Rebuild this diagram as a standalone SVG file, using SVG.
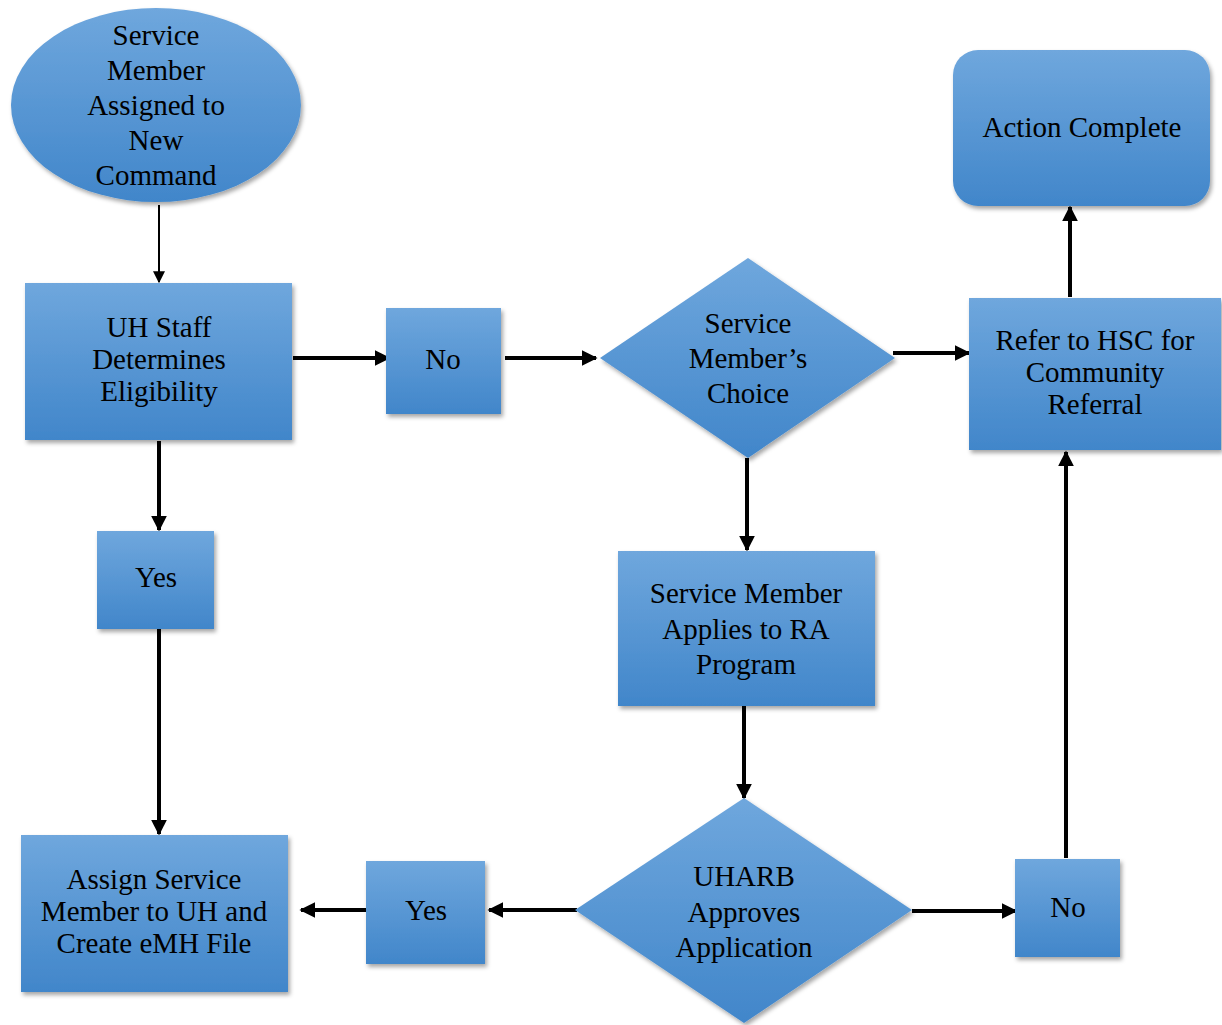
<svg xmlns="http://www.w3.org/2000/svg" width="1222" height="1025" viewBox="0 0 1222 1025">
<defs>
<linearGradient id="g" x1="0" y1="0" x2="0" y2="1">
<stop offset="0" stop-color="#6fa7dd"/>
<stop offset="1" stop-color="#4186ca"/>
</linearGradient>
<filter id="sh" x="-10%" y="-10%" width="125%" height="125%">
<feDropShadow dx="2" dy="3" stdDeviation="2" flood-color="#000" flood-opacity="0.35"/>
</filter>
<marker id="ah" viewBox="0 0 10 10" refX="9" refY="5" markerWidth="4" markerHeight="4" orient="auto" markerUnits="strokeWidth">
<path d="M0,0 L10,5 L0,10 z" fill="#000"/>
</marker>
<marker id="ah2" viewBox="0 0 10 10" refX="9" refY="5" markerWidth="6" markerHeight="6" orient="auto" markerUnits="strokeWidth">
<path d="M0,0 L10,5 L0,10 z" fill="#000"/>
</marker>
</defs>
<style>
.n{fill:url(#g);filter:url(#sh)}
.tx{font-family:'Liberation Serif','Times New Roman',serif;font-size:29px;fill:#000;text-anchor:middle}
.c line{stroke:#000;stroke-width:4;marker-end:url(#ah)}
.c line.t{stroke-width:2;marker-end:url(#ah2)}
</style>
<rect width="1222" height="1025" fill="#fff"/>
<g class="c">
<line class="t" x1="159" y1="205" x2="159" y2="282"/>
<line x1="293" y1="358" x2="389" y2="358"/>
<line x1="505" y1="358" x2="596" y2="358"/>
<line x1="893" y1="353" x2="969" y2="353"/>
<line x1="1070" y1="297" x2="1070" y2="207"/>
<line x1="159" y1="441" x2="159" y2="530"/>
<line x1="159" y1="629" x2="159" y2="834"/>
<line x1="747" y1="458" x2="747" y2="550"/>
<line x1="744" y1="706" x2="744" y2="798"/>
<line x1="577" y1="910" x2="489" y2="910"/>
<line x1="368" y1="910" x2="301" y2="910"/>
<line x1="912" y1="911" x2="1016" y2="911"/>
<line x1="1066" y1="858" x2="1066" y2="452"/>
</g>
<g id="start" class="tx">
<ellipse class="n" cx="156" cy="105" rx="145" ry="97"/>
<text x="156" y="45">Service</text>
<text x="156" y="80">Member</text>
<text x="156" y="115">Assigned to</text>
<text x="156" y="150">New</text>
<text x="156" y="185">Command</text>
</g>
<g id="uh-staff" class="tx">
<rect class="n" x="25" y="283" width="267" height="157"/>
<text x="159" y="337">UH Staff</text>
<text x="159" y="369">Determines</text>
<text x="159" y="401">Eligibility</text>
</g>
<g id="no1" class="tx">
<rect class="n" x="386" y="308" width="115" height="106"/>
<text x="443" y="369">No</text>
</g>
<g id="choice" class="tx">
<polygon class="n" points="748,258 895,358 748,458 600,358"/>
<text x="748" y="333">Service</text>
<text x="748" y="368">Member’s</text>
<text x="748" y="403">Choice</text>
</g>
<g id="refer" class="tx">
<rect class="n" x="969" y="298" width="252" height="152"/>
<text x="1095" y="350">Refer to HSC for</text>
<text x="1095" y="382">Community</text>
<text x="1095" y="414">Referral</text>
</g>
<g id="complete" class="tx">
<rect class="n" x="953" y="50" width="257" height="156" rx="25"/>
<text x="1082" y="137">Action Complete</text>
</g>
<g id="yes1" class="tx">
<rect class="n" x="97" y="531" width="117" height="98"/>
<text x="156" y="587">Yes</text>
</g>
<g id="apply" class="tx">
<rect class="n" x="618" y="551" width="257" height="155"/>
<text x="746" y="603">Service Member</text>
<text x="746" y="639">Applies to RA</text>
<text x="746" y="674">Program</text>
</g>
<g id="uharb" class="tx">
<polygon class="n" points="744,798 912,910 744,1023 575,910"/>
<text x="744" y="886">UHARB</text>
<text x="744" y="922">Approves</text>
<text x="744" y="957">Application</text>
</g>
<g id="yes2" class="tx">
<rect class="n" x="366" y="861" width="119" height="103"/>
<text x="426" y="920">Yes</text>
</g>
<g id="no2" class="tx">
<rect class="n" x="1015" y="859" width="105" height="98"/>
<text x="1068" y="917">No</text>
</g>
<g id="assign" class="tx">
<rect class="n" x="21" y="835" width="267" height="157"/>
<text x="154" y="889">Assign Service</text>
<text x="154" y="921">Member to UH and</text>
<text x="154" y="953">Create eMH File</text>
</g>
</svg>
